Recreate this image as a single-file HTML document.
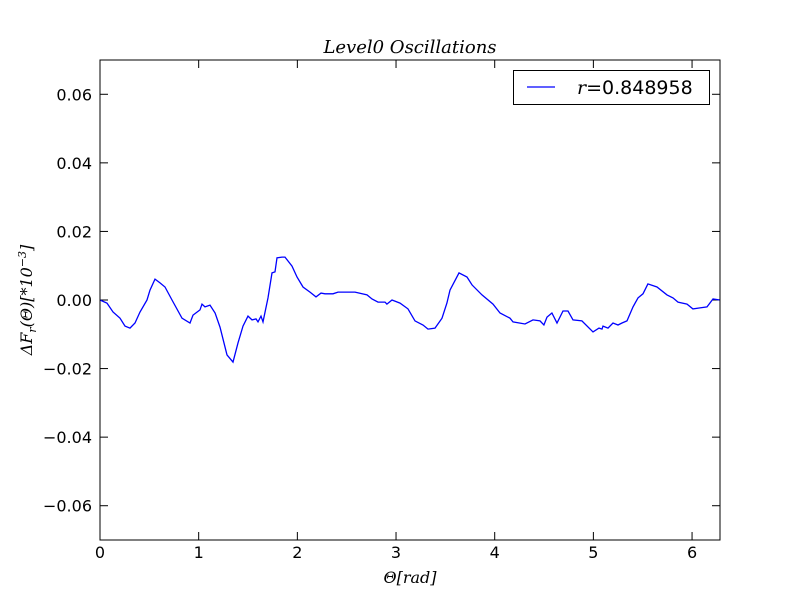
<!DOCTYPE html>
<html><head><meta charset="utf-8"><style>
body{margin:0;background:#fff}
svg text{font-family:"DejaVu Sans","Liberation Sans",sans-serif}
.m{font-family:"DejaVu Serif","Liberation Serif",serif;font-style:italic}
</style></head><body>
<svg id="c" width="800" height="600" xmlns="http://www.w3.org/2000/svg">
<rect width="800" height="600" fill="#fff"/>
<g id="ticks"></g>
<path id="line" fill="none" stroke="#0000ff" stroke-width="1.3"/>
<rect x="100" y="60" width="620" height="480" fill="none" stroke="#000" stroke-width="1"/>
<text class="m" x="410" y="53" font-size="18" text-anchor="middle">Level0 Oscillations</text>
<text class="m" x="410" y="583" font-size="16" text-anchor="middle">Θ[rad]</text>
<text class="m" transform="translate(32,300) rotate(-90)" font-size="16" text-anchor="middle">ΔF<tspan font-size="11" dy="4">r</tspan><tspan dy="-4">(Θ)[*10</tspan><tspan font-size="11" dy="-6">−3</tspan><tspan dy="6">]</tspan></text>
<g>
<rect x="513.5" y="70.5" width="196" height="34" fill="#fff" stroke="#000"/>
<line x1="527" y1="87" x2="555" y2="87" stroke="#0000ff" stroke-width="1.3"/>
<text x="577" y="94" font-size="19"><tspan class="m">r</tspan>=0.848958</text>
</g>
</svg>
<script>
const xs=[0,.071,.132,.203,.253,.304,.355,.405,.476,.507,.557,.608,.659,.730,.831,.912,.942,1.013,1.034,1.064,1.115,1.166,1.216,1.287,1.348,1.399,1.449,1.500,1.540,1.581,1.601,1.632,1.652,1.703,1.743,1.773,1.794,1.844,1.875,1.946,1.996,2.057,2.128,2.189,2.240,2.280,2.361,2.412,2.584,2.706,2.757,2.817,2.888,2.908,2.959,
3.040,3.121,3.192,3.273,3.324,3.395,3.466,3.516,3.547,3.638,3.719,3.770,3.871,3.983,4.054,4.155,4.185,4.307,4.388,4.459,4.499,4.530,4.580,4.631,4.692,4.743,4.793,4.884,4.996,5.057,5.087,5.097,5.148,5.199,5.249,5.290,5.341,5.402,5.452,5.503,5.553,5.645,5.746,5.807,5.858,5.949,6.009,6.080,6.151,6.212,6.283];
const ys=[0,-.0009,-.0035,-.0053,-.0076,-.0082,-.0067,-.0035,0,.0029,.0061,.0050,.0038,0,-.0053,-.0067,-.0044,-.0029,-.0012,-.0020,-.0015,-.0038,-.0079,-.0160,-.0181,-.0125,-.0076,-.0047,-.0058,-.0055,-.0064,-.0047,-.0064,.0006,.0079,.0082,.0123,.0125,.0125,.0099,.0067,.0038,.0023,.0009,.0020,.0018,.0018,.0023,.0023,.0015,.0003,-.0006,-.0006,-.0012,0,
-.0009,-.0026,-.0061,-.0073,-.0085,-.0082,-.0053,-.0009,.0029,.0079,.0067,.0044,.0015,-.0012,-.0038,-.0053,-.0064,-.0070,-.0058,-.0061,-.0073,-.0050,-.0038,-.0067,-.0032,-.0032,-.0058,-.0061,-.0093,-.0082,-.0085,-.0076,-.0082,-.0067,-.0073,-.0067,-.0061,-.0020,.0006,.0018,.0047,.0038,.0015,.0006,-.0006,-.0012,-.0026,-.0023,-.0020,.0003,0];
const xTicks=[0,1,2,3,4,5,6];
const yTicks=[-0.06,-0.04,-0.02,0,0.02,0.04,0.06];
const yTickLabels=["−0.06","−0.04","−0.02","0.00","0.02","0.04","0.06"];
const X=v=>100+v/(2*Math.PI)*620, Y=v=>300-v/0.14*480;
const ns="http://www.w3.org/2000/svg", g=document.getElementById('ticks');
function mk(t,a){const e=document.createElementNS(ns,t);for(const k in a)e.setAttribute(k,a[k]);g.appendChild(e);return e;}
xTicks.forEach(v=>{const x=X(v);
 const l1=mk('line',{x1:x,y1:540,x2:x,y2:532,stroke:'#000'});
 
 
 mk('line',{x1:x,y1:60,x2:x,y2:68,stroke:'#000'});
 const t=mk('text',{x:x,y:558,'font-size':16,'text-anchor':'middle'});t.textContent=v;
 
 });
yTicks.forEach((v,i)=>{const y=Y(v);
 const l1=mk('line',{x1:100,y1:y,x2:108,y2:y,stroke:'#000'});
 
 
 mk('line',{x1:720,y1:y,x2:712,y2:y,stroke:'#000'});
 const t=mk('text',{x:92,y:y+6,'font-size':16,'text-anchor':'end'});t.textContent=yTickLabels[i];
 
 });
document.getElementById('line').setAttribute('d',xs.map((x,i)=>(i?'L':'M')+X(x).toFixed(1)+','+Y(ys[i]).toFixed(1)).join(''));
</script>
</body></html>
